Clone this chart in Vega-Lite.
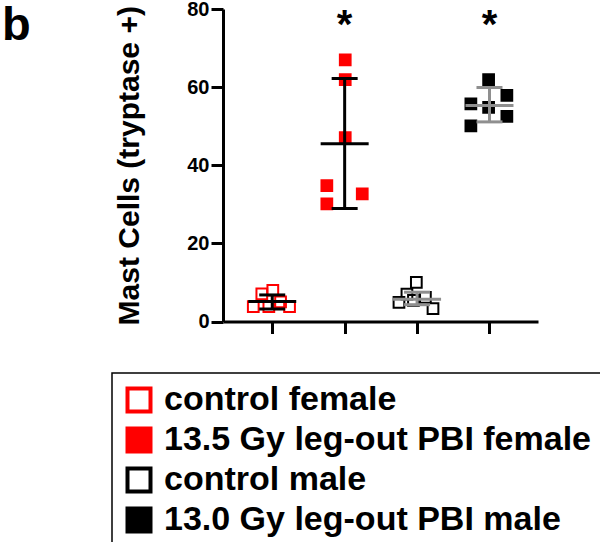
{
  "$schema": "https://vega.github.io/schema/vega-lite/v6.json",
  "autosize": {"type": "none"},
  "padding": {"left": 223, "top": 9, "right": 62, "bottom": 220},
  "width": 315,
  "height": 312.5,
  "title": {"text": "b", "anchor": "start", "frame": "group", "fontSize": 47, "font": "Liberation Sans", "fontWeight": "bold", "color": "black", "dx": -221, "dy": 88, "offset": 0, "baseline": "alphabetic"},
  "datasets": {
    "points": [
      {"group": "control female", "sex": "female", "x": 0.856, "value": 7.1},
      {"group": "control female", "sex": "female", "x": 1.008, "value": 8.0},
      {"group": "control female", "sex": "female", "x": 0.738, "value": 3.8},
      {"group": "control female", "sex": "female", "x": 0.953, "value": 3.8},
      {"group": "control female", "sex": "female", "x": 1.239, "value": 3.8},
      {"group": "control female", "sex": "female", "x": 1.115, "value": 5.0},
      {"group": "13.5 Gy leg-out PBI female", "sex": "female", "x": 2.008, "value": 67.0},
      {"group": "13.5 Gy leg-out PBI female", "sex": "female", "x": 2.008, "value": 61.9},
      {"group": "13.5 Gy leg-out PBI female", "sex": "female", "x": 2.008, "value": 47.1},
      {"group": "13.5 Gy leg-out PBI female", "sex": "female", "x": 1.754, "value": 34.8},
      {"group": "13.5 Gy leg-out PBI female", "sex": "female", "x": 1.754, "value": 30.1},
      {"group": "13.5 Gy leg-out PBI female", "sex": "female", "x": 2.243, "value": 32.7},
      {"group": "control male", "sex": "male", "x": 2.99, "value": 10.0},
      {"group": "control male", "sex": "male", "x": 2.86, "value": 7.0},
      {"group": "control male", "sex": "male", "x": 3.115, "value": 6.2},
      {"group": "control male", "sex": "male", "x": 2.75, "value": 4.9},
      {"group": "control male", "sex": "male", "x": 3.22, "value": 3.3},
      {"group": "control male", "sex": "male", "x": 2.95, "value": 5.4},
      {"group": "13.0 Gy leg-out PBI male", "sex": "male", "x": 3.988, "value": 61.9},
      {"group": "13.0 Gy leg-out PBI male", "sex": "male", "x": 4.24, "value": 57.9},
      {"group": "13.0 Gy leg-out PBI male", "sex": "male", "x": 3.743, "value": 55.7},
      {"group": "13.0 Gy leg-out PBI male", "sex": "male", "x": 3.988, "value": 54.8},
      {"group": "13.0 Gy leg-out PBI male", "sex": "male", "x": 4.24, "value": 52.5},
      {"group": "13.0 Gy leg-out PBI male", "sex": "male", "x": 3.743, "value": 50.1}
    ],
    "stats": [
      {"group": "control female", "sex": "female", "x": 1, "mean": 5.1, "lo": 3.2, "hi": 6.8, "sig": "", "sigY": 72.6},
      {"group": "13.5 Gy leg-out PBI female", "sex": "female", "x": 2, "mean": 45.5, "lo": 28.9, "hi": 62.2, "sig": "*", "sigY": 72.6},
      {"group": "control male", "sex": "male", "x": 3, "mean": 5.7, "lo": 4.3, "hi": 7.5, "sig": "", "sigY": 72.6},
      {"group": "13.0 Gy leg-out PBI male", "sex": "male", "x": 4, "mean": 55.3, "lo": 51.1, "hi": 59.9, "sig": "*", "sigY": 72.6}
    ]
  },
  "encoding": {
    "x": {"type": "quantitative", "scale": {"domain": [0.32, 4.67], "nice": false, "zero": false},
      "axis": {"values": [1, 2, 3, 4], "labels": false, "title": null, "grid": false}}
  },
  "layer": [
    {
      "data": {"name": "points"},
      "mark": {"type": "square", "size": 115, "strokeWidth": 2, "opacity": 1},
      "encoding": {
        "x": {"field": "x", "type": "quantitative"},
        "y": {"field": "value", "type": "quantitative", "scale": {"domain": [0, 80], "nice": false},
          "axis": {"values": [0, 20, 40, 60, 80], "title": "Mast Cells (tryptase +)", "grid": false}},
        "fill": {"field": "group", "type": "nominal",
          "scale": {"domain": ["control female", "13.5 Gy leg-out PBI female", "control male", "13.0 Gy leg-out PBI male"],
            "range": ["transparent", "#ff0000", "transparent", "#000000"]},
          "legend": {"title": null}},
        "stroke": {"field": "group", "type": "nominal",
          "scale": {"domain": ["control female", "13.5 Gy leg-out PBI female", "control male", "13.0 Gy leg-out PBI male"],
            "range": ["#ff0000", "#ff0000", "#000000", "#000000"]},
          "legend": {"title": null}}
      }
    },
    {
      "data": {"name": "stats"},
      "mark": {"type": "rule", "strokeWidth": 3},
      "encoding": {
        "x": {"field": "x", "type": "quantitative"},
        "y": {"field": "lo", "type": "quantitative"},
        "y2": {"field": "hi"},
        "color": {"field": "sex", "type": "nominal", "scale": {"domain": ["female", "male"], "range": ["#000000", "#8f8f8f"]}, "legend": null}
      }
    },
    {
      "data": {"name": "stats"},
      "mark": {"type": "tick", "orient": "horizontal", "size": 48, "thickness": 3, "opacity": 1},
      "encoding": {
        "x": {"field": "x", "type": "quantitative"},
        "y": {"field": "mean", "type": "quantitative"},
        "color": {"field": "sex", "type": "nominal", "scale": {"domain": ["female", "male"], "range": ["#000000", "#8f8f8f"]}, "legend": null}
      }
    },
    {
      "data": {"name": "stats"},
      "mark": {"type": "tick", "orient": "horizontal", "size": 26, "thickness": 3, "opacity": 1},
      "encoding": {
        "x": {"field": "x", "type": "quantitative"},
        "y": {"field": "lo", "type": "quantitative"},
        "color": {"field": "sex", "type": "nominal", "scale": {"domain": ["female", "male"], "range": ["#000000", "#8f8f8f"]}, "legend": null}
      }
    },
    {
      "data": {"name": "stats"},
      "mark": {"type": "tick", "orient": "horizontal", "size": 26, "thickness": 3, "opacity": 1},
      "encoding": {
        "x": {"field": "x", "type": "quantitative"},
        "y": {"field": "hi", "type": "quantitative"},
        "color": {"field": "sex", "type": "nominal", "scale": {"domain": ["female", "male"], "range": ["#000000", "#8f8f8f"]}, "legend": null}
      }
    },
    {
      "data": {"name": "stats"},
      "mark": {"type": "text", "fontSize": 40, "font": "Liberation Sans", "fontWeight": "bold", "baseline": "alphabetic", "align": "center", "color": "black"},
      "encoding": {
        "x": {"field": "x", "type": "quantitative"},
        "y": {"field": "sigY", "type": "quantitative"},
        "text": {"field": "sig"}
      }
    }
  ],
  "config": {
    "font": "Liberation Sans",
    "view": {"stroke": null},
    "axis": {
      "domainColor": "black", "domainWidth": 3, "tickColor": "black", "tickWidth": 3, "tickSize": 12,
      "labelFont": "Liberation Sans", "labelFontSize": 20, "labelFontWeight": "bold", "labelColor": "black", "labelPadding": 2,
      "titleFont": "Liberation Sans", "titleFontSize": 30, "titleFontWeight": "bold", "titleColor": "black", "titlePadding": 42
    },
    "legend": {
      "orient": "none", "legendX": -111, "legendY": 364, "direction": "vertical",
      "labelFont": "Liberation Sans", "labelFontSize": 34, "labelFontWeight": "bold", "labelColor": "black", "labelLimit": 1000,
      "labelOffset": 8, "symbolType": "square", "symbolSize": 529, "symbolStrokeWidth": 4,
      "strokeColor": "black", "strokeWidth": 1.5, "padding": 10, "rowPadding": 0, "cornerRadius": 0
    }
  }
}
